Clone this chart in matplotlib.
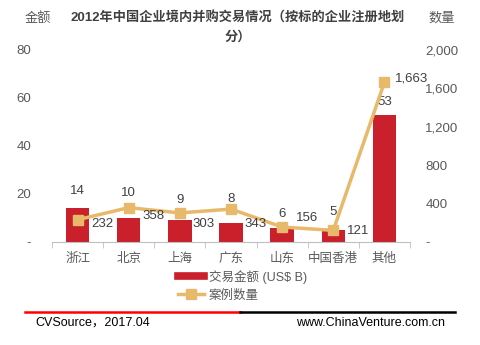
import matplotlib
matplotlib.use("Agg")
import matplotlib.pyplot as plt
from matplotlib.lines import Line2D
import numpy as np

plt.rcParams['font.family'] = ['Liberation Sans', 'Noto Sans CJK SC', 'DejaVu Sans']

categories = ['浙江', '北京', '上海', '广东', '山东', '中国香港', '其他']
amount = [14, 10, 9, 8, 6, 5, 53]
deals = [232, 358, 303, 343, 156, 121, 1663]
left_ticks = [0, 20, 40, 60, 80]
left_labels = ['-', '20', '40', '60', '80']
right_ticks = [0, 400, 800, 1200, 1600, 2000]
right_labels = ['-', '400', '800', '1,200', '1,600', '2,000']

# label placement offsets (pixels)
bar_lbl_dy = [17, 25, 20, 24, 14, 18, 13]
line_lbl_off = [(25, -4), (25, -8), (24, -11), (25, -15), (25, 9), (25, -1), (27, 4)]

BAR = '#C9202B'
LINE = '#E8B96A'
TXT = '#404040'
TICK = '#595959'

W, H = 480, 345
fig = plt.figure(figsize=(W / 100, H / 100), dpi=100)
ax = fig.add_axes([52 / W, 1 - 242 / H, (410 - 52) / W, (242 - 50) / H])
ax2 = ax.twinx()

x = np.arange(len(categories))
ax.bar(x, amount, width=0.46, color=BAR, zorder=2)
ax.set_xlim(-0.5, len(categories) - 0.5)
ax.set_ylim(0, 80)
ax2.set_ylim(0, 2000)

ax2.plot(x, deals, color=LINE, lw=2.5, marker='s', ms=7, mec=LINE, mfc=LINE, zorder=3)

for a in (ax, ax2):
    for s in ['top', 'left', 'right', 'bottom']:
        a.spines[s].set_visible(False)
ax.spines['bottom'].set_visible(True)
ax.spines['bottom'].set_color('#BFBFBF')

ax.set_xticks(x)
ax.set_xticklabels(categories, fontsize=9, color=TICK)
ax.set_xticks(np.arange(-0.5, len(categories), 1), minor=True)
ax.tick_params(axis='x', which='major', length=0, pad=8)
ax.tick_params(axis='x', which='minor', length=4, color='#BFBFBF', direction='out')

ax.set_yticks(left_ticks)
ax.set_yticklabels(left_labels, fontsize=9.5, color=TICK)
ax.tick_params(axis='y', length=0, pad=15)
ax2.set_yticks(right_ticks)
ax2.set_yticklabels(right_labels, fontsize=9.5, color=TICK)
ax2.tick_params(axis='y', length=0, pad=11)

for i, v in enumerate(amount):
    ax.annotate(str(v), (x[i], v), xytext=(0, bar_lbl_dy[i] / 100 * 72),
                textcoords='offset points', ha='center', va='center',
                fontsize=9.5, color=TXT, zorder=5)
for i, v in enumerate(deals):
    dx, dy = line_lbl_off[i]
    ax2.annotate(f'{v:,}', (x[i], v), xytext=(dx / 100 * 72, dy / 100 * 72),
                 textcoords='offset points', ha='center', va='center',
                 fontsize=9.5, color=TXT, zorder=5)

# titles
fig.text(238 / W, 1 - 18 / H, '2012年中国企业境内并购交易情况（按标的企业注册地划',
         ha='center', va='center', fontsize=9.5, fontweight='bold', color=TXT)
fig.text(238 / W, 1 - 37 / H, '分）', ha='center', va='center',
         fontsize=9.5, fontweight='bold', color=TXT)
fig.text(38 / W, 1 - 18 / H, '金额', ha='center', va='center', fontsize=9.5, color=TICK)
fig.text(442 / W, 1 - 18 / H, '数量', ha='center', va='center', fontsize=9.5, color=TICK)

# legend
handles = [Line2D([], [], color=BAR, lw=5.5),
           Line2D([], [], color=LINE, lw=2.5, marker='s', ms=7)]
leg = fig.legend(handles, ['交易金额 (US$ B)', '案例数量'], loc='upper left',
                 bbox_to_anchor=(178 / W, 1 - 270 / H), frameon=False,
                 fontsize=9, handlelength=2.1, handletextpad=0.35,
                 labelspacing=0.45, borderpad=0, borderaxespad=0)
for t in leg.get_texts():
    t.set_color(TICK)

# footer
fig.add_artist(Line2D([25 / W, 240 / W], [1 - 312 / H] * 2, color='#FF0000', lw=1.8))
fig.add_artist(Line2D([240 / W, 455 / W], [1 - 312 / H] * 2, color='#000000', lw=1.8))
fig.text(35 / W, 1 - 323 / H, 'CVSource，2017.04', ha='left', va='center',
         fontsize=9, color='black')
fig.text(445 / W, 1 - 323 / H, 'www.ChinaVenture.com.cn', ha='right', va='center',
         fontsize=9, color='black')

fig.savefig('out.png', dpi=100)
